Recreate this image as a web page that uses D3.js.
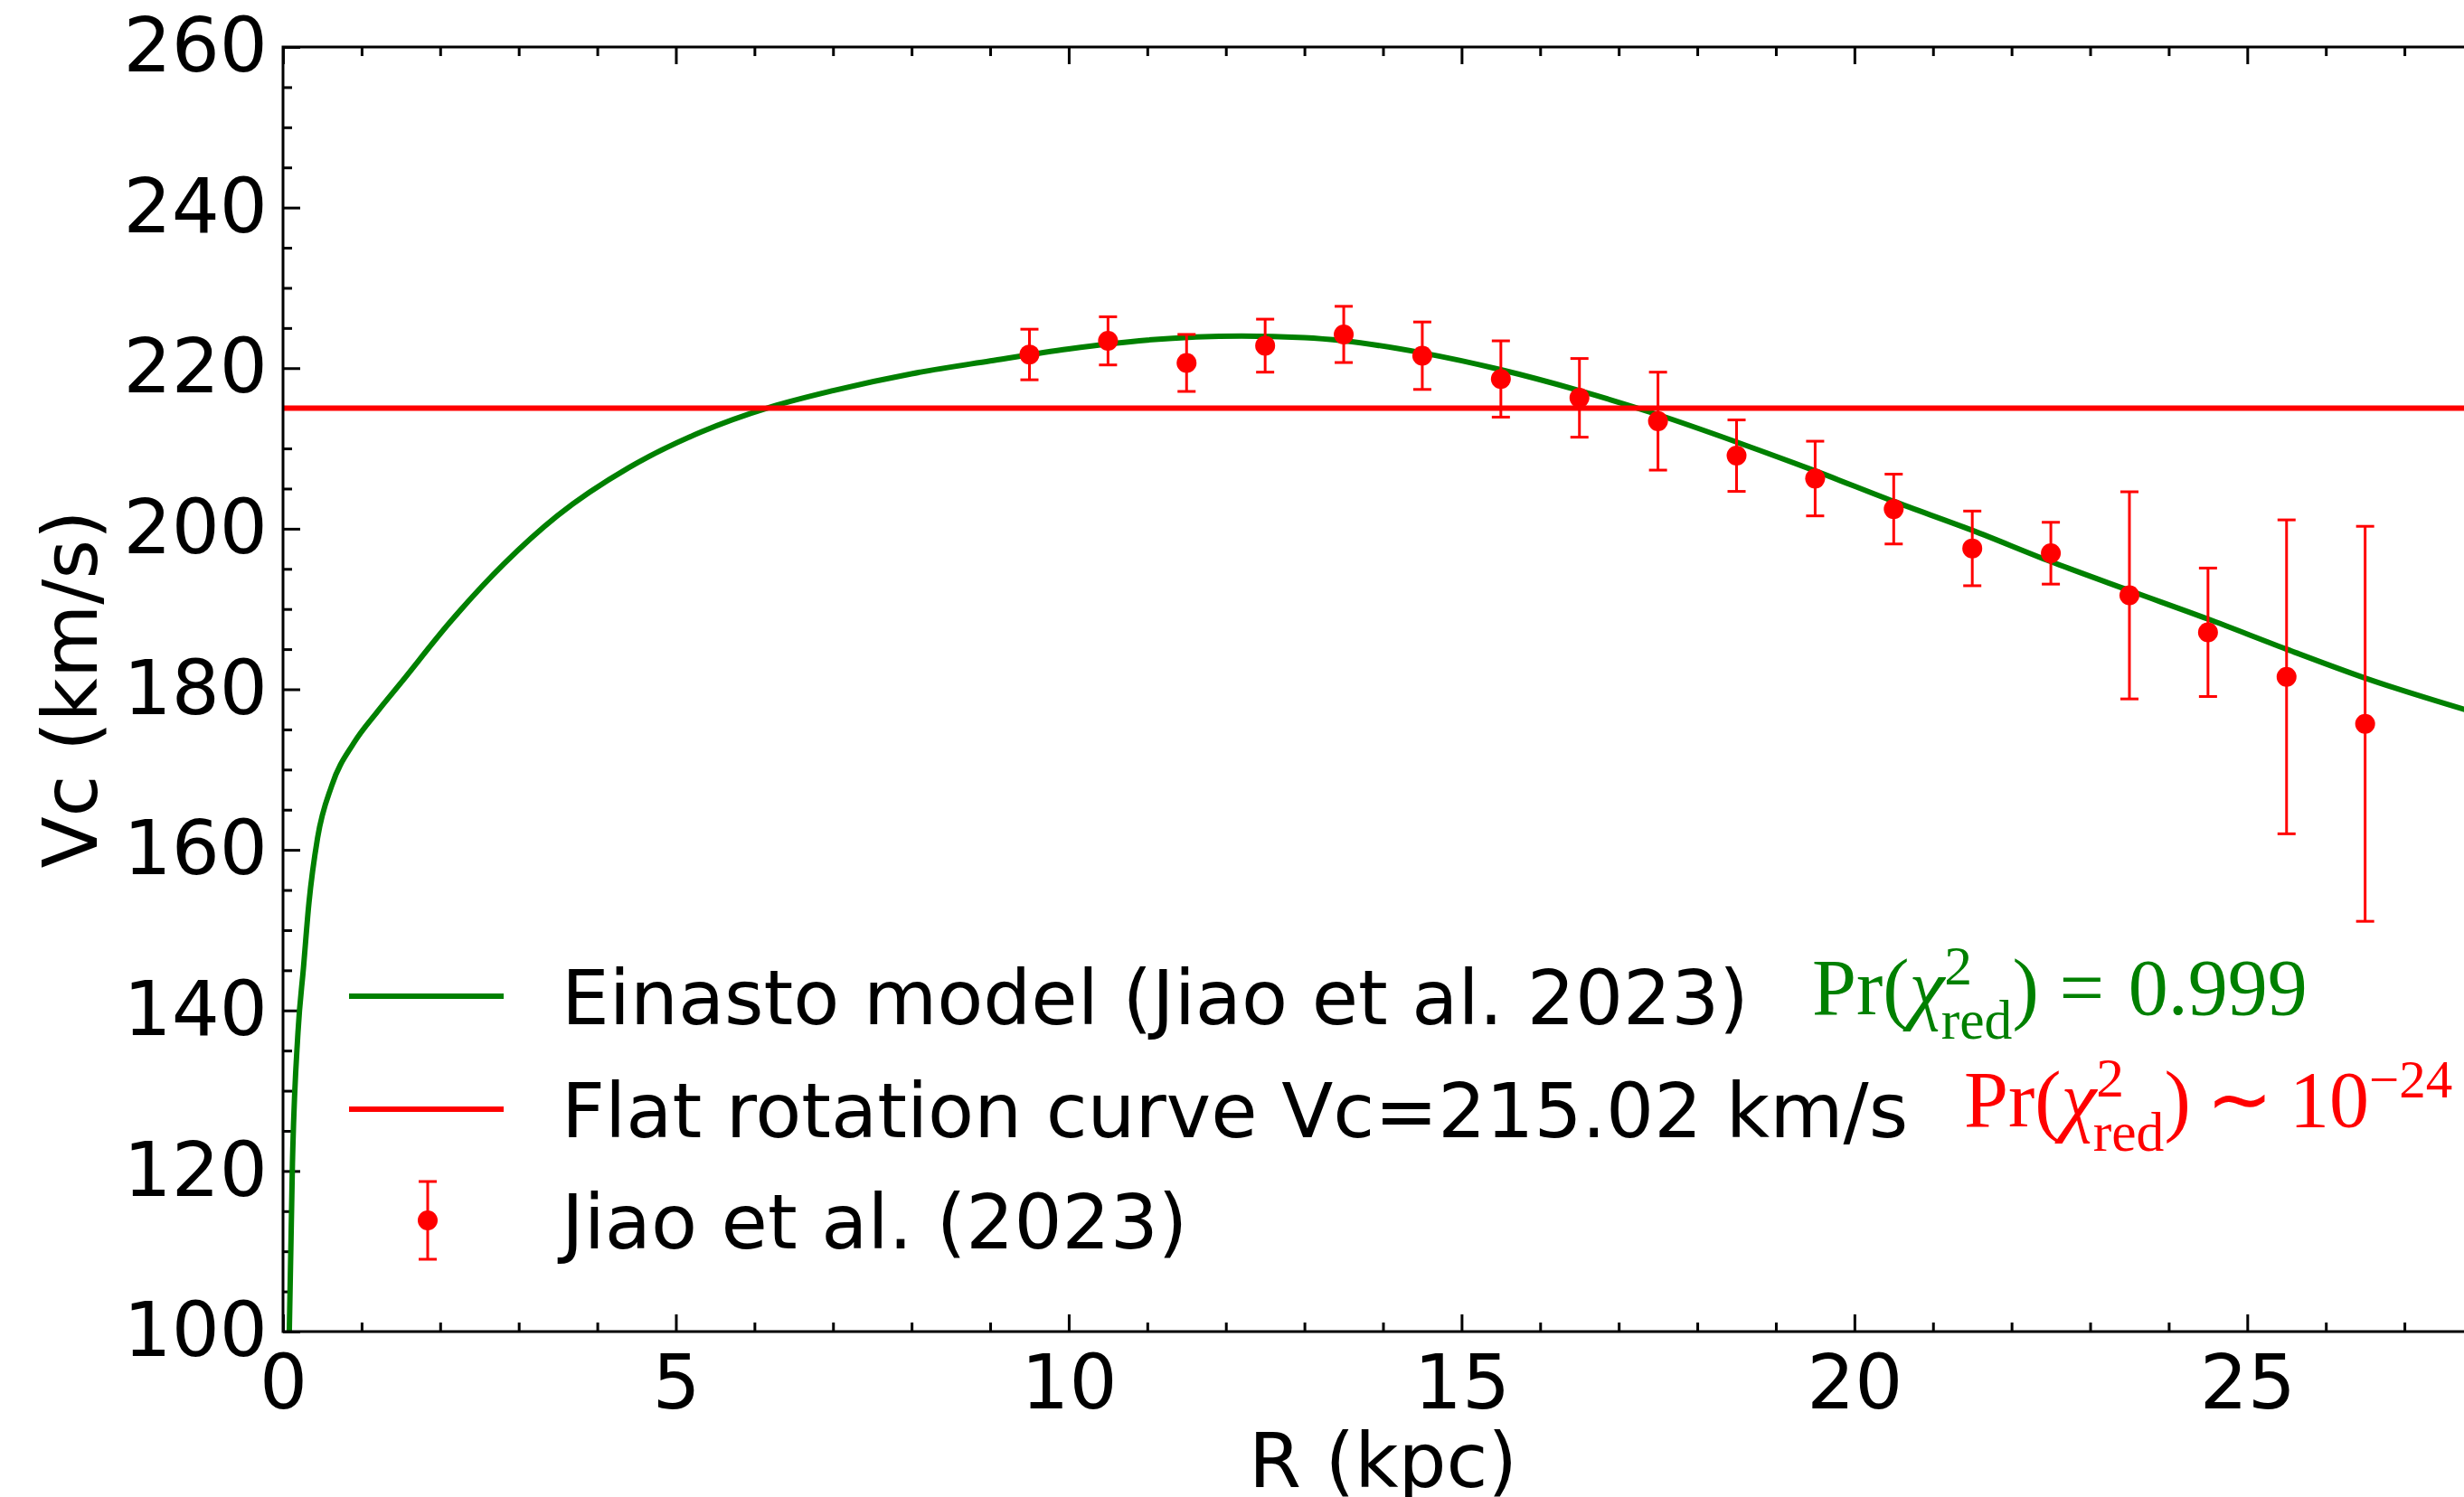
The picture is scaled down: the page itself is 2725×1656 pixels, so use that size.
<!DOCTYPE html>
<html>
<head>
<meta charset="utf-8">
<script src="https://cdn.jsdelivr.net/npm/d3@7"></script>
<style>
  html, body { margin: 0; padding: 0; background: #fff; overflow: hidden; }
</style>
</head>
<body>
<svg id="chart"></svg>
<script>
// Milky Way rotation curve: Einasto model, flat-curve fit and observed Vc(R)

// Observed circular velocities (Jiao et al. 2023)
const radiusKpc = [9.5, 10.5, 11.5, 12.5, 13.5, 14.5, 15.5, 16.5, 17.5,
                   18.5, 19.5, 20.5, 21.5, 22.5, 23.5, 24.5, 25.5, 26.5];
const vcObs = [221.7, 223.4, 220.65, 222.8, 224.2, 221.55, 218.65, 216.3, 213.4,
               209.1, 206.25, 202.45, 197.55, 196.95, 191.7, 187.1, 181.55, 175.7];
const vcErr = [3.15, 3.0, 3.55, 3.3, 3.5, 4.2, 4.75, 4.9, 6.1,
               4.45, 4.65, 4.35, 4.65, 3.85, 12.9, 8.0, 19.55, 24.6];

// Einasto model curve, sampled along R
const modelR = [0.08, 0.12, 0.19, 0.26, 0.33, 0.44, 0.62, 0.90, 1.2, 1.5, 2.12, 2.81, 3.49,
                4.40, 5.31, 6.22, 7.0, 8.0, 9.0, 10.0, 11.0, 12.2, 13.0, 13.5, 14.5,
                15.5, 16.5, 17.5, 18.5, 19.5, 20.5, 21.5, 22.5, 23.5, 24.5, 25.5, 26.5, 28.0];
const modelVc = [100, 121, 137.2, 145.3, 153.4, 161.5, 168.0, 173.3, 177.2, 180.8, 188.3, 195.6, 201.6,
                 207.6, 212.0, 215.2, 217.2, 219.3, 220.9, 222.4, 223.5, 224.0, 223.8, 223.4, 221.9,
                 219.8, 217.2, 214.2, 210.8, 207.2, 203.4, 199.8, 195.9, 192.3, 188.75, 185.0, 181.4, 176.8];

// Flat rotation curve fit
const flatVc = 215.02;

// Axis ticks and labels
const xMajorTicks = [0, 5, 10, 15, 20, 25];
const yMajorTicks = [100, 120, 140, 160, 180, 200, 220, 240, 260];
const xLabel = "R (kpc)";
const yLabel = "Vc (km/s)";
const legendLabels = ["Einasto model (Jiao et al. 2023)",
                      "Flat rotation curve Vc=215.02 km/s",
                      "Jiao et al. (2023)"];

const W = 2725, H = 1656;
const GREEN = "#008000", RED = "#ff0000";
const SANS = '"DejaVu Sans", sans-serif';
const SERIF = '"Liberation Serif", "Times New Roman", serif';
const FS = 83.5;

const svg = d3.select("#chart").attr("width", W).attr("height", H);
svg.append("rect").attr("width", W).attr("height", H).attr("fill", "#fff");

const plot = { left: 313, top: 52, right: 2746, bottom: 1473 };
const x = d3.scaleLinear().domain([0, 28]).range([plot.left, plot.right]);
const y = d3.scaleLinear().domain([100, 260]).range([plot.bottom, plot.top]);

const xMinor = d3.range(0, 29, 1).filter(v => v % 5 !== 0);
const yMinor = d3.range(100, 261, 5).filter(v => v % 20 !== 0);

svg.append("defs").append("clipPath").attr("id", "plotClip")
  .append("rect")
  .attr("x", plot.left).attr("y", plot.top)
  .attr("width", plot.right - plot.left).attr("height", plot.bottom - plot.top);

// ---- axes (ticks pointing inward on all four sides) ----
function styleAxis(g) {
  g.select(".domain").remove();
  g.selectAll(".tick line").attr("stroke", "#000").attr("stroke-width", 3);
  g.selectAll(".tick text").attr("fill", "#000")
    .style("font-family", SANS).style("font-size", FS + "px");
}
const MAJ = 19, MIN = 10;

svg.append("g").attr("transform", `translate(0,${plot.bottom})`)
  .call(d3.axisBottom(x).tickValues(xMajorTicks).tickSize(-MAJ).tickPadding(26).tickFormat(d3.format("d")))
  .call(styleAxis);
svg.append("g").attr("transform", `translate(0,${plot.bottom})`)
  .call(d3.axisBottom(x).tickValues(xMinor).tickSize(-MIN).tickFormat(""))
  .call(styleAxis);
svg.append("g").attr("transform", `translate(0,${plot.top})`)
  .call(d3.axisTop(x).tickValues(xMajorTicks).tickSize(-MAJ).tickFormat(""))
  .call(styleAxis);
svg.append("g").attr("transform", `translate(0,${plot.top})`)
  .call(d3.axisTop(x).tickValues(xMinor).tickSize(-MIN).tickFormat(""))
  .call(styleAxis);

svg.append("g").attr("transform", `translate(${plot.left},0)`)
  .call(d3.axisLeft(y).tickValues(yMajorTicks).tickSize(-MAJ).tickPadding(17).tickFormat(d3.format("d")))
  .call(styleAxis);
svg.append("g").attr("transform", `translate(${plot.left},0)`)
  .call(d3.axisLeft(y).tickValues(yMinor).tickSize(-MIN).tickFormat(""))
  .call(styleAxis);
svg.append("g").attr("transform", `translate(${plot.right},0)`)
  .call(d3.axisRight(y).tickValues(yMajorTicks).tickSize(-MAJ).tickFormat(""))
  .call(styleAxis);
svg.append("g").attr("transform", `translate(${plot.right},0)`)
  .call(d3.axisRight(y).tickValues(yMinor).tickSize(-MIN).tickFormat(""))
  .call(styleAxis);

// ---- data layer ----
const layer = svg.append("g").attr("clip-path", "url(#plotClip)");

const model = modelR.map((r, i) => [r, modelVc[i]]);
layer.append("path")
  .datum(model)
  .attr("fill", "none")
  .attr("stroke", GREEN)
  .attr("stroke-width", 6)
  .attr("stroke-linejoin", "round")
  .attr("d", d3.line().x(d => x(d[0])).y(d => y(d[1])).curve(d3.curveMonotoneX));

layer.append("line")
  .attr("x1", x(0)).attr("x2", x(28))
  .attr("y1", y(flatVc)).attr("y2", y(flatVc))
  .attr("stroke", RED).attr("stroke-width", 6);

const obs = radiusKpc.map((r, i) => ({ r, v: vcObs[i], e: vcErr[i] }));
const CAP = 10;
const pts = layer.append("g").selectAll("g").data(obs).join("g");
pts.append("line")
  .attr("x1", d => x(d.r)).attr("x2", d => x(d.r))
  .attr("y1", d => y(d.v - d.e)).attr("y2", d => y(d.v + d.e))
  .attr("stroke", RED).attr("stroke-width", 3);
pts.append("line")
  .attr("x1", d => x(d.r) - CAP).attr("x2", d => x(d.r) + CAP)
  .attr("y1", d => y(d.v + d.e)).attr("y2", d => y(d.v + d.e))
  .attr("stroke", RED).attr("stroke-width", 3);
pts.append("line")
  .attr("x1", d => x(d.r) - CAP).attr("x2", d => x(d.r) + CAP)
  .attr("y1", d => y(d.v - d.e)).attr("y2", d => y(d.v - d.e))
  .attr("stroke", RED).attr("stroke-width", 3);
pts.append("circle")
  .attr("cx", d => x(d.r)).attr("cy", d => y(d.v)).attr("r", 11)
  .attr("fill", RED);

// ---- frame ----
svg.append("rect")
  .attr("x", plot.left).attr("y", plot.top)
  .attr("width", plot.right - plot.left).attr("height", plot.bottom - plot.top)
  .attr("fill", "none").attr("stroke", "#000").attr("stroke-width", 3);

// ---- axis labels ----
svg.append("text")
  .attr("x", (plot.left + plot.right) / 2).attr("y", 1645)
  .attr("text-anchor", "middle")
  .style("font-family", SANS).style("font-size", FS + "px")
  .text(xLabel);
svg.append("text")
  .attr("transform", `translate(107,${(plot.top + plot.bottom) / 2}) rotate(-90)`)
  .attr("text-anchor", "middle")
  .style("font-family", SANS).style("font-size", FS + "px")
  .text(yLabel);

// ---- legend ----
const legend = svg.append("g");
const rowY = [1102, 1227, 1350];
const lineX0 = 386, lineX1 = 557, textX = 621;
legend.append("line").attr("x1", lineX0).attr("x2", lineX1)
  .attr("y1", rowY[0]).attr("y2", rowY[0]).attr("stroke", GREEN).attr("stroke-width", 6);
legend.append("line").attr("x1", lineX0).attr("x2", lineX1)
  .attr("y1", rowY[1]).attr("y2", rowY[1]).attr("stroke", RED).attr("stroke-width", 6);
const mx = (lineX0 + lineX1) / 2 + 1.5;
legend.append("line").attr("x1", mx).attr("x2", mx)
  .attr("y1", rowY[2] - 43).attr("y2", rowY[2] + 43).attr("stroke", RED).attr("stroke-width", 3);
[-43, 43].forEach(dy => legend.append("line")
  .attr("x1", mx - CAP).attr("x2", mx + CAP)
  .attr("y1", rowY[2] + dy).attr("y2", rowY[2] + dy)
  .attr("stroke", RED).attr("stroke-width", 3));
legend.append("circle").attr("cx", mx).attr("cy", rowY[2]).attr("r", 11).attr("fill", RED);
legend.selectAll("text.lab").data(legendLabels).join("text")
  .attr("class", "lab")
  .attr("x", textX).attr("y", (d, i) => rowY[i] + 31)
  .style("font-family", SANS).style("font-size", FS + "px")
  .attr("fill", "#000")
  .text(d => d);

// ---- goodness-of-fit annotations (math-style text) ----
function mathLabel(x0, base, size, color, pieces) {
  const g = svg.append("g").attr("fill", color).style("font-family", SERIF);
  let cx = x0, scriptStart = x0;
  pieces.forEach(p => {
    if (p.gap) { cx += p.gap * size; return; }
    const fs = size * (p.scale || 1);
    const px = (p.stack ? scriptStart : cx) + (p.dx || 0) * size;
    const t = g.append("text")
      .attr("x", px).attr("y", base + (p.shift || 0) * size)
      .style("font-size", fs + "px")
      .style("font-style", p.italic ? "italic" : "normal")
      .text(p.text);
    const end = px + t.node().getComputedTextLength();
    if (p.script) scriptStart = px;
    cx = p.stack ? Math.max(cx, end) : end;
  });
}

const ANN = 88;
mathLabel(2004, 1122, ANN, GREEN, [
  { text: "Pr(" },
  { text: "χ", italic: true },
  { text: "2", scale: 0.7, shift: -0.37, script: true },
  { text: "red", scale: 0.7, shift: 0.31, stack: true, dx: -0.04 },
  { text: ")" },
  { gap: 0.26 },
  { text: "=" },
  { gap: 0.3 },
  { text: "0.999" }
]);

mathLabel(2172, 1246, ANN, RED, [
  { text: "Pr(" },
  { text: "χ", italic: true },
  { text: "2", scale: 0.7, shift: -0.37, script: true },
  { text: "red", scale: 0.7, shift: 0.31, stack: true, dx: -0.04 },
  { text: ")" },
  { gap: 0.2 },
  { text: "∼" },
  { gap: 0.2 },
  { text: "10" },
  { text: "−24", scale: 0.67, shift: -0.36 }
]);
</script>
</body>
</html>
